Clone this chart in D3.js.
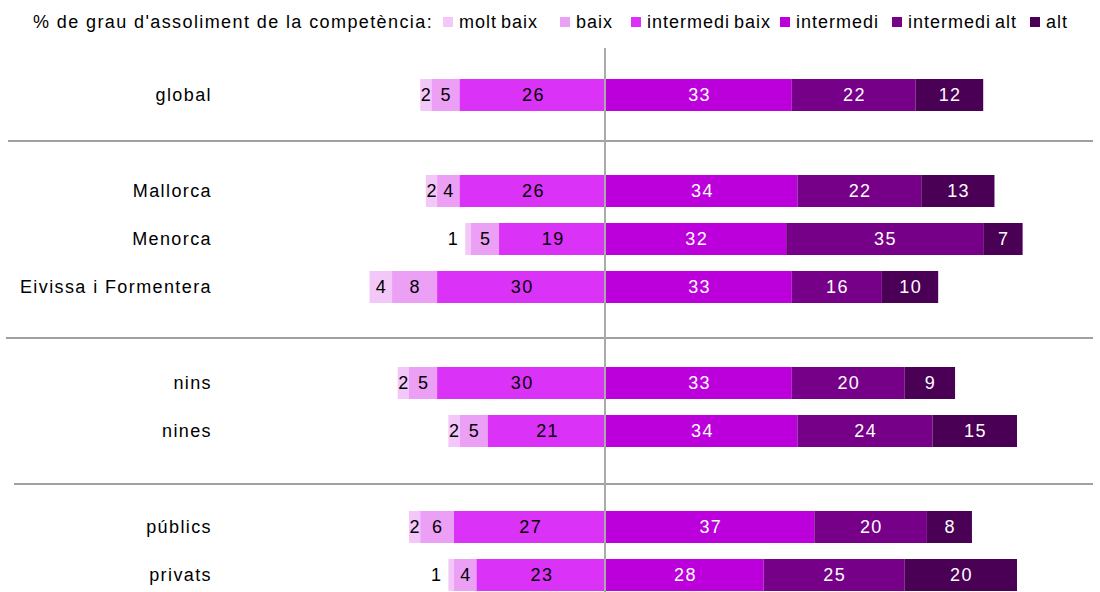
<!DOCTYPE html>
<html>
<head>
<meta charset="utf-8">
<script src="https://d3js.org/d3.v7.min.js"></script>
<style>
  body { margin: 0; background: #fff; }
  svg text { font-family: "Liberation Sans", Arial, sans-serif; letter-spacing: 1.4px; }
</style>
</head>
<body>
<div id="chart"></div>

<script>
    // categories (spacers "_1".. mark the gaps with separator lines)
    var categories = ["global", "_1", "Mallorca", "Menorca", "Eivissa i Formentera", "_2", "nins", "nines", "_3", "públics", "privats"];
    var rows = ["global", "Mallorca", "Menorca", "Eivissa i Formentera", "nins", "nines", "públics", "privats"];

    var levels = ["molt baix", "baix", "intermedi baix", "intermedi", "intermedi alt", "alt"];

    // % per level, one value per row
    var moltBaix      = [2, 2, 1, 4, 2, 2, 2, 1];
    var baix          = [5, 4, 5, 8, 5, 5, 6, 4];
    var intermediBaix = [26, 26, 19, 30, 30, 21, 27, 23];
    var intermedi     = [33, 34, 32, 33, 33, 34, 37, 28];
    var intermediAlt  = [22, 22, 35, 16, 20, 24, 20, 25];
    var alt           = [12, 13, 7, 10, 9, 15, 8, 20];

    var series = [moltBaix, baix, intermediBaix, intermedi, intermediAlt, alt];
    var colors = ["#f3c8f9", "#eba0f5", "#db32f7", "#bc00dc", "#770088", "#4a0055"];

    var W = 1100, H = 592;
    var svg = d3.select("#chart").append("svg")
        .attr("width", W)
        .attr("height", H);

    var x = d3.scaleLinear().domain([-45, 80]).range([606 - 45 * 5.63, 606 + 80 * 5.63]);
    var y = d3.scalePoint().domain(categories).range([95, 575]);
    var barH = 32;

    // separators between groups
    var sepY = [141, 338, 484];
    var sepX = [8, 6, 14];
    svg.selectAll("line.sep").data(sepY).enter().append("line")
        .attr("class", "sep")
        .attr("x1", function (d, i) { return sepX[i]; })
        .attr("x2", 1093)
        .attr("y1", function (d) { return d; })
        .attr("y2", function (d) { return d; })
        .attr("stroke", "#a0a0a0")
        .attr("stroke-width", 2);

    // build stacked segments: first three to the left of zero, last three to the right
    var segs = [];
    rows.forEach(function (r, i) {
        var pos = -(moltBaix[i] + baix[i] + intermediBaix[i]);
        series.forEach(function (s, k) {
            segs.push({ row: r, k: k, v: s[i], x0: pos, x1: pos + s[i] });
            pos += s[i];
        });
    });

    var g = svg.append("g");
    g.selectAll("rect").data(segs).enter().append("rect")
        .attr("x", function (d) { return x(d.x0); })
        .attr("width", function (d) { return x(d.x1) - x(d.x0); })
        .attr("y", function (d) { return y(d.row) - barH / 2; })
        .attr("height", barH)
        .attr("fill", function (d) { return colors[d.k]; });

    // tiny segments get their label outside, to the left
    g.selectAll("text.val").data(segs).enter().append("text")
        .attr("class", "val")
        .attr("x", function (d) {
            if (d.v < 1.5) return x(d.x0) - 6;
            return (x(d.x0) + x(d.x1)) / 2 + 0.7;
        })
        .attr("y", function (d) { return y(d.row); })
        .attr("dy", "0.36em")
        .attr("text-anchor", function (d) { return d.v < 1.5 ? "end" : "middle"; })
        .attr("font-size", 18)
        .attr("fill", function (d) { return d.k >= 3 ? "#fff" : "#000"; })
        .text(function (d) { return d.v; });

    // centre line
    svg.append("line")
        .attr("x1", 605).attr("x2", 605)
        .attr("y1", 48).attr("y2", H)
        .attr("stroke", "#aaaaaa")
        .attr("stroke-width", 2);

    // row labels
    svg.selectAll("text.cat").data(rows).enter().append("text")
        .attr("class", "cat")
        .attr("x", 212)
        .attr("y", function (d) { return y(d); })
        .attr("dy", "0.36em")
        .attr("text-anchor", "end")
        .attr("font-size", 18)
        .attr("fill", "#000")
        .text(function (d) { return d; });

    // legend
    var legend = svg.append("g").attr("font-size", 18);
    legend.append("text")
        .attr("x", 33).attr("y", 22).attr("dy", "0.36em")
        .text("% de grau d'assoliment de la competència:");
    var legX = [443, 560, 631, 780, 892, 1030];
    levels.forEach(function (l, i) {
        legend.append("rect")
            .attr("x", legX[i]).attr("y", 17)
            .attr("width", 10).attr("height", 10)
            .attr("fill", colors[i]);
        legend.append("text")
            .attr("x", legX[i] + 16).attr("y", 22).attr("dy", "0.36em")
            .style("letter-spacing", "1px")
            .style("word-spacing", "-2px")
            .text(l);
    });
</script>

</body>
</html>
